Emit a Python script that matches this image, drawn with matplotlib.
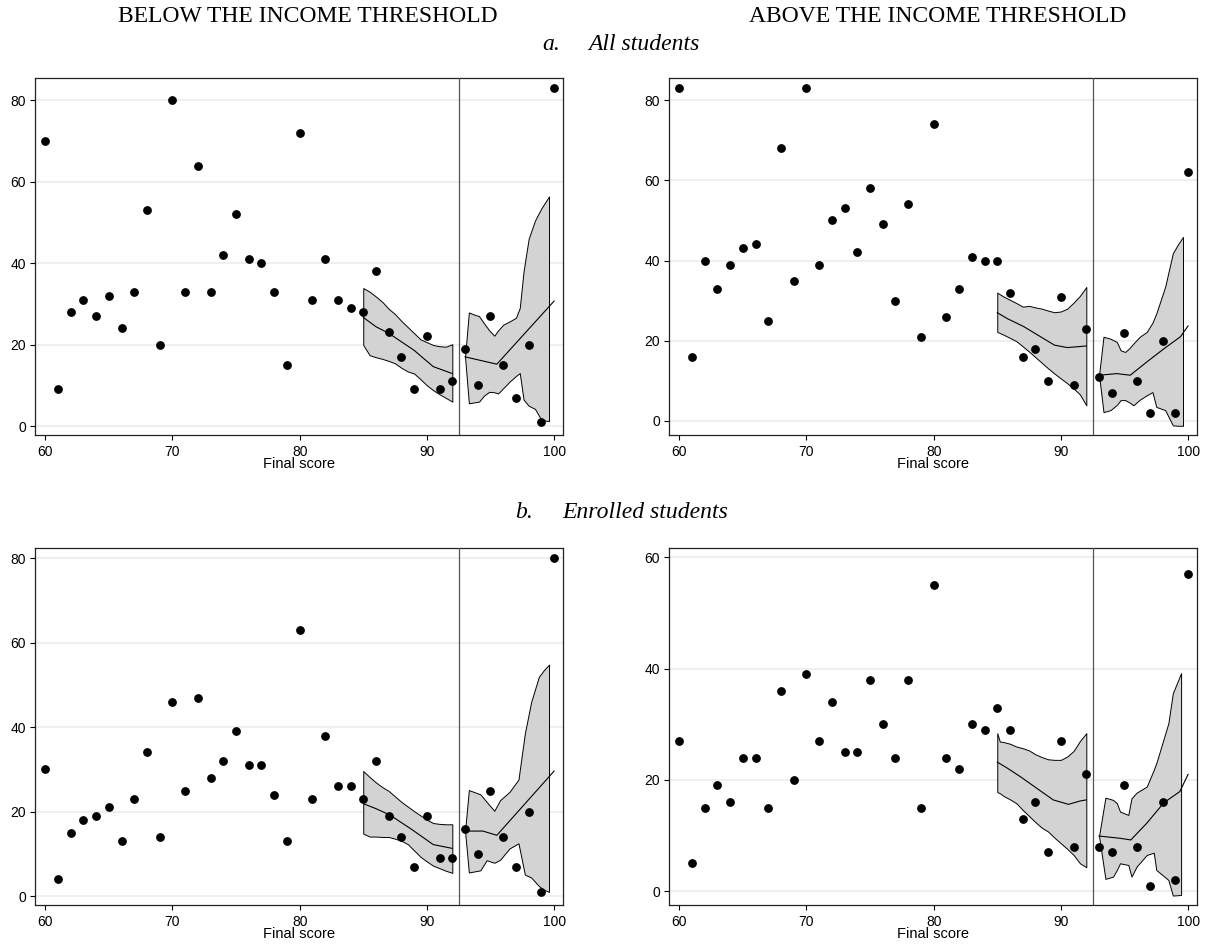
import matplotlib
matplotlib.use("Agg")
import matplotlib.pyplot as plt

# scores on the x axis (same for all panels)
scores = list(range(60, 101))
cutoff = 92.5

# ---- a. All students, below threshold
all_below = [70, 9, 28, 31, 27, 32, 24, 33, 53, 20, 80, 33, 64, 33, 42, 52, 41, 40, 33, 15,
             72, 31, 41, 31, 29, 28, 38, 23, 17, 9, 22, 9, 11, 19, 10, 27, 15, 7, 20, 1, 83]
# ---- a. All students, above threshold
all_above = [83, 16, 40, 33, 39, 43, 44, 25, 68, 35, 83, 39, 50, 53, 42, 58, 49, 30, 54, 21,
             74, 26, 33, 41, 40, 40, 32, 16, 18, 10, 31, 9, 23, 11, 7, 22, 10, 2, 20, 2, 62]
# ---- b. Enrolled students, below threshold
enr_below = [30, 4, 15, 18, 19, 21, 13, 23, 34, 14, 46, 25, 47, 28, 32, 39, 31, 31, 24, 13,
             63, 23, 38, 26, 26, 23, 32, 19, 14, 7, 19, 9, 9, 16, 10, 25, 14, 7, 20, 1, 80]
# ---- b. Enrolled students, above threshold
enr_above = [27, 5, 15, 19, 16, 24, 24, 15, 36, 20, 39, 27, 34, 25, 25, 38, 30, 24, 38, 15,
             55, 24, 22, 30, 29, 33, 29, 13, 16, 7, 27, 8, 21, 8, 7, 19, 8, 1, 16, 2, 57]

# local fits with confidence bands, left of cutoff (85-92)
band_l_x = [85, 85.5, 86, 86.5, 87, 87.5, 88, 88.5, 89, 89.5, 90, 90.5, 91, 91.5, 92]
p1_l_hi = [33.9, 33.0, 31.8, 30.5, 28.8, 27.5, 25.8, 24.3, 22.8, 21.3, 20.6, 19.9, 19.6, 19.5, 20.1]
p1_l_lo = [19.9, 17.4, 16.9, 16.5, 16.0, 15.4, 14.3, 13.4, 12.9, 11.5, 10.0, 8.8, 7.8, 6.9, 6.0]
p1_l_fx = [85, 86, 87, 89, 90.5, 92]
p1_l_fy = [26.7, 24.4, 22.8, 18.6, 14.6, 12.9]

p2_l_hi = [32.0, 31.0, 30.2, 29.4, 28.5, 28.7, 28.3, 28.0, 27.5, 27.1, 27.3, 28.0, 29.5, 31.2, 33.4]
p2_l_lo = [22.2, 21.5, 20.7, 19.9, 18.6, 17.3, 15.9, 14.5, 13.1, 11.8, 10.6, 9.4, 8.1, 6.6, 3.9]
p2_l_fx = [85, 85.8, 87.1, 88.4, 89.5, 90.5, 91.3, 92]
p2_l_fy = [27.0, 25.5, 23.5, 21.0, 18.9, 18.3, 18.5, 18.7]

p3_l_hi = [29.6, 28.2, 26.9, 25.8, 24.9, 23.6, 22.3, 21.2, 20.1, 19.1, 18.1, 17.3, 17.1, 17.0, 17.0]
p3_l_lo = [14.8, 14.1, 14.1, 14.0, 14.0, 13.6, 13.1, 12.3, 10.8, 9.3, 8.2, 7.2, 6.6, 6.0, 5.5]
p3_l_fx = [85, 86, 87.1, 88.9, 90.5, 92]
p3_l_fy = [21.9, 20.7, 19.2, 15.6, 12.2, 11.3]

p4_l_x = [85, 85.2, 85.5, 86, 86.5, 87, 87.5, 88, 88.5, 89, 89.5, 90, 90.5, 91, 91.5, 92]
p4_l_hi = [28.4, 26.9, 26.8, 26.5, 26.0, 25.7, 25.3, 24.6, 24.1, 23.7, 23.6, 23.6, 24.2, 25.2, 27.0, 28.4]
p4_l_lo = [17.8, 17.6, 17.1, 16.5, 15.8, 14.6, 13.5, 12.4, 11.4, 10.7, 9.6, 8.6, 7.6, 6.5, 5.0, 4.3]
p4_l_fx = [85, 85.8, 86.8, 88.1, 89.4, 90.6, 91.5, 92]
p4_l_fy = [23.2, 22.1, 20.6, 18.5, 16.4, 15.6, 16.2, 16.4]

# right of cutoff (93-100)
p1_r_x = [93, 93.3, 93.7, 94.1, 94.5, 94.9, 95.3, 95.6, 96.0, 96.5, 97.0, 97.3, 97.6, 98.0, 98.5, 99.0, 99.6]
p1_r_hi = [17, 27.9, 27.4, 27.0, 25.2, 23.5, 22.2, 23.5, 24.9, 25.7, 26.6, 29.0, 38.0, 46.0, 50.5, 53.5, 56.4]
p1_r_lo = [17, 5.6, 5.8, 6.0, 7.5, 8.4, 8.3, 8.0, 9.3, 10.9, 12.3, 13.0, 6.5, 5.0, 4.2, 1.5, 1.2]
p1_r_fx = [93, 95.5, 100]
p1_r_fy = [17.0, 15.2, 30.7]

p2_r_x = [93, 93.35, 93.9, 94.4, 94.7, 95.05, 95.4, 95.7, 96.2, 96.75, 97.2, 97.5, 98.2, 98.8, 99.2, 99.6]
p2_r_hi = [11.4, 21.0, 20.5, 19.7, 17.6, 17.2, 18.2, 19.3, 21.0, 22.2, 24.5, 26.8, 33.5, 41.8, 44.0, 45.9]
p2_r_lo = [11.4, 2.2, 2.7, 4.0, 5.2, 5.2, 4.6, 3.9, 5.3, 6.4, 7.2, 3.5, 2.7, -1.1, -1.2, -1.2]
p2_r_fx = [93, 94.4, 95.45, 96.75, 98.1, 99.4, 100]
p2_r_fy = [11.4, 11.8, 11.4, 14.7, 18.0, 21.0, 23.7]

p3_r_x = [93, 93.3, 94.2, 94.7, 95.3, 95.75, 96.5, 97.2, 97.7, 98.2, 98.8, 99.2, 99.6]
p3_r_hi = [15.4, 25.1, 24.1, 22.3, 20.2, 22.7, 24.7, 27.6, 38.5, 46.0, 51.9, 53.5, 54.8]
p3_r_lo = [15.4, 5.6, 6.1, 8.5, 7.9, 8.6, 11.3, 12.5, 5.1, 4.4, 2.4, 1.5, 1.0]
p3_r_fx = [93, 94.4, 95.5, 100]
p3_r_fy = [15.4, 15.4, 14.4, 29.6]

p4_r_x = [93, 93.5, 94.1, 94.4, 94.65, 95.3, 95.55, 95.95, 96.75, 97.3, 97.5, 98.45, 98.8, 99.45]
p4_r_hi = [9.9, 16.8, 16.4, 15.8, 14.3, 13.7, 16.7, 17.7, 18.8, 21.8, 23.0, 30.2, 35.6, 39.2]
p4_r_lo = [9.9, 2.2, 2.6, 3.8, 5.0, 4.7, 2.6, 4.4, 6.5, 6.9, 3.8, 2.0, -0.8, -0.7]
p4_r_fx = [93, 94.65, 95.5, 96.75, 98.1, 99.35, 100]
p4_r_fy = [9.9, 9.5, 9.2, 12.2, 15.9, 17.9, 21.0]

panels = [
    dict(y=all_below, lx=band_l_x, lhi=p1_l_hi, llo=p1_l_lo, lfx=p1_l_fx, lfy=p1_l_fy,
         rx=p1_r_x, rhi=p1_r_hi, rlo=p1_r_lo, rfx=p1_r_fx, rfy=p1_r_fy,
         ylim=(-2.2, 85.5), yticks=[0, 20, 40, 60, 80]),
    dict(y=all_above, lx=band_l_x, lhi=p2_l_hi, llo=p2_l_lo, lfx=p2_l_fx, lfy=p2_l_fy,
         rx=p2_r_x, rhi=p2_r_hi, rlo=p2_r_lo, rfx=p2_r_fx, rfy=p2_r_fy,
         ylim=(-3.5, 85.5), yticks=[0, 20, 40, 60, 80]),
    dict(y=enr_below, lx=band_l_x, lhi=p3_l_hi, llo=p3_l_lo, lfx=p3_l_fx, lfy=p3_l_fy,
         rx=p3_r_x, rhi=p3_r_hi, rlo=p3_r_lo, rfx=p3_r_fx, rfy=p3_r_fy,
         ylim=(-2.1, 82.4), yticks=[0, 20, 40, 60, 80]),
    dict(y=enr_above, lx=p4_l_x, lhi=p4_l_hi, llo=p4_l_lo, lfx=p4_l_fx, lfy=p4_l_fy,
         rx=p4_r_x, rhi=p4_r_hi, rlo=p4_r_lo, rfx=p4_r_fx, rfy=p4_r_fy,
         ylim=(-2.5, 61.7), yticks=[0, 20, 40, 60]),
]

plt.rcParams['font.family'] = ['Liberation Sans', 'DejaVu Sans']

W, H = 1208, 948
fig = plt.figure(figsize=(W / 100, H / 100), dpi=100)

# axes boxes in pixels: left, top, right, bottom
boxes = [(35, 78, 563, 435), (669, 78, 1197, 435),
         (35, 548, 563, 905), (669, 548, 1197, 905)]

for p, (l, t, r, b) in zip(panels, boxes):
    ax = fig.add_axes([l / W, 1 - b / H, (r - l) / W, (b - t) / H])
    ax.set_xlim(59.2, 100.7)
    ax.set_ylim(*p['ylim'])
    ax.set_xticks([60, 70, 80, 90, 100])
    ax.set_yticks(p['yticks'])
    ax.yaxis.grid(True, color='#ececec', lw=1.2)
    ax.set_axisbelow(True)
    for s in ax.spines.values():
        s.set_linewidth(0.9)
        s.set_color('#222222')
    ax.tick_params(direction='out', length=3.5, width=0.8, labelsize=10, pad=3)
    ax.tick_params(axis='x', pad=4)

    ax.fill_between(p['lx'], p['llo'], p['lhi'], facecolor='#d3d3d3', edgecolor='black', lw=0.7, zorder=2)
    ax.fill_between(p['rx'], p['rlo'], p['rhi'], facecolor='#d3d3d3', edgecolor='black', lw=0.7, zorder=2)
    ax.plot(p['lfx'], p['lfy'], color='black', lw=0.8, zorder=3)
    ax.plot(p['rfx'], p['rfy'], color='black', lw=0.8, zorder=3)
    ax.axvline(cutoff, color='#555555', lw=0.9, zorder=3)
    ax.scatter(scores, p['y'], s=28, color='black', zorder=4, clip_on=False)
    ax.set_xlabel('Final score', fontsize=10.5, labelpad=-1.5)

serif = ['Liberation Serif', 'DejaVu Serif']
fs = 17
fig.text(118 / W, 1 - 17 / H, 'BELOW THE INCOME THRESHOLD', ha='left', va='center',
         fontsize=fs, family=serif)
fig.text(938 / W, 1 - 17 / H, 'ABOVE THE INCOME THRESHOLD', ha='center', va='center',
         fontsize=fs, family=serif)
fig.text(542 / W, 1 - 44 / H, 'a.', ha='left', va='center', fontsize=fs, family=serif, style='italic')
fig.text(588 / W, 1 - 44 / H, 'All students', ha='left', va='center', fontsize=fs, family=serif, style='italic')
fig.text(515 / W, 1 - 513 / H, 'b.', ha='left', va='center', fontsize=fs, family=serif, style='italic')
fig.text(562 / W, 1 - 513 / H, 'Enrolled students', ha='left', va='center', fontsize=fs, family=serif, style='italic')

fig.savefig('out.png', dpi=100, facecolor='white')
